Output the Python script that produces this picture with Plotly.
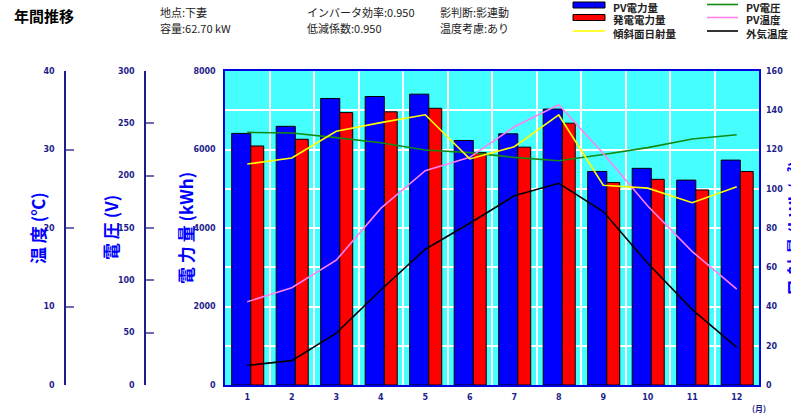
import plotly.graph_objects as go

# ---------------- data ----------------
months = ["1", "2", "3", "4", "5", "6", "7", "8", "9", "10", "11", "12"]
pv_power = [6410, 6590, 7300, 7350, 7410, 6230, 6400, 7030, 5440, 5520, 5220, 5730]      # PV電力量 kWh
gen_power = [6090, 6260, 6940, 6960, 7050, 5920, 6060, 6670, 5160, 5240, 4970, 5440]     # 発電電力量 kWh
irradiance = [112.6, 115.7, 129.3, 133.7, 137.7, 115.2, 121.4, 137.6, 101.8, 100.3, 92.9, 101.0]  # 傾斜面日射量
pv_voltage = [241.4, 240.8, 236.3, 231.5, 224.5, 222.0, 217.5, 214.3, 220.3, 226.8, 235.0, 239.1]  # PV電圧 V
pv_temp = [10.6, 12.4, 15.9, 22.5, 27.3, 29.0, 32.9, 35.7, 29.5, 22.8, 17.0, 12.2]        # PV温度 ℃
air_temp = [2.5, 3.1, 6.6, 12.1, 17.3, 20.6, 24.1, 25.7, 22.1, 15.5, 9.6, 4.8]           # 外気温度 ℃

energy_ticks = [0, 2000, 4000, 6000, 8000]
volt_ticks = [0, 50, 100, 150, 200, 250, 300]
temp_ticks = [0, 10, 20, 30, 40]
irr_ticks = [0, 20, 40, 60, 80, 100, 120, 140, 160]

W, H = 791, 419
PL, PR, PT, PB = 225, 759, 71, 385


def px(x):
    return x / W


def py(y):
    return (PB - y) / (PB - PT)


NAVY = "#1e1e8a"
TICKFONT = dict(family="DejaVu Sans", size=8, color=NAVY, weight="bold")
CJK = "Noto Sans CJK JP"

fig = go.Figure()

fig.add_trace(go.Bar(x=months, y=pv_power, name="PV電力量", marker=dict(color="#0000ff", line=dict(color="black", width=1)),
                     width=0.43, offset=-0.35, showlegend=False))
fig.add_trace(go.Bar(x=months, y=gen_power, name="発電電力量", marker=dict(color="#ff0000", line=dict(color="black", width=1)),
                     width=0.29, offset=0.08, showlegend=False))

fig.add_trace(go.Scatter(x=months, y=irradiance, name="傾斜面日射量", mode="lines", line=dict(color="#ffff00", width=1.6),
                         yaxis="y4", showlegend=False))
fig.add_trace(go.Scatter(x=months, y=pv_voltage, name="PV電圧", mode="lines", line=dict(color="#138a13", width=1.6),
                         yaxis="y2", showlegend=False))
fig.add_trace(go.Scatter(x=months, y=pv_temp, name="PV温度", mode="lines", line=dict(color="#ff80f0", width=1.6),
                         yaxis="y3", showlegend=False))
fig.add_trace(go.Scatter(x=months, y=air_temp, name="外気温度", mode="lines", line=dict(color="#000000", width=1.6),
                         yaxis="y3", showlegend=False))

fig.update_layout(
    width=W, height=H,
    margin=dict(l=0, r=0, t=PT, b=H - PB, pad=0),
    paper_bgcolor="white",
    plot_bgcolor="#45ffff",
    barmode="overlay",
    xaxis=dict(domain=[px(PL), px(PR)], type="category", range=[-0.5, 11.5], tickson="boundaries",
               showgrid=True, gridcolor="white", gridwidth=1.5, ticks="", tickfont=TICKFONT,
               showline=True, linecolor="#0000dd", linewidth=1.5, mirror=True, ticklabelstandoff=4,
               zeroline=False),
    yaxis=dict(range=[0, 8000], tickvals=energy_ticks, showgrid=True, gridcolor="white", gridwidth=1.5,
               minor=dict(dtick=1000, showgrid=True, gridcolor="white", gridwidth=1.5),
               showline=True, linecolor="#0000dd", linewidth=1.5, mirror=True, ticks="",
               tickfont=TICKFONT, ticklabelstandoff=6, zeroline=False),
    yaxis2=dict(range=[0, 300], tickvals=volt_ticks, overlaying="y", anchor="free", position=px(145), side="left",
                showgrid=False, showline=True, linecolor=NAVY, linewidth=1.5, ticks="inside", ticklen=8,
                tickcolor="#6b6bb0", tickwidth=1.5, tickfont=TICKFONT, ticklabelstandoff=8, zeroline=False),
    yaxis3=dict(range=[0, 40], tickvals=temp_ticks, overlaying="y", anchor="free", position=px(65), side="left",
                showgrid=False, showline=True, linecolor=NAVY, linewidth=1.5, ticks="inside", ticklen=8,
                tickcolor="#6b6bb0", tickwidth=1.5, tickfont=TICKFONT, ticklabelstandoff=8, zeroline=False),
    yaxis4=dict(range=[0, 160], tickvals=irr_ticks, overlaying="y", anchor="x", side="right",
                showgrid=False, showline=False, ticks="", tickfont=TICKFONT, ticklabelstandoff=6, zeroline=False),
)

ann = []
title_font = dict(family=CJK, size=17, color="#0000ff", weight="bold")
for xpx, txt in [(37, "温 度 (℃)"), (110, "電 圧 (V)"), (185, "電 力 量 (kWh)"), (794, "日 射 量 (kWh/㎡)")]:
    ann.append(dict(x=px(xpx), y=py(228), xref="paper", yref="paper", text=txt, textangle=-90,
                    showarrow=False, font=title_font, xanchor="center", yanchor="middle"))

ann.append(dict(x=px(12), y=py(15), xref="paper", yref="paper", text="年間推移", showarrow=False,
                xanchor="left", yanchor="middle", font=dict(family=CJK, size=15, color="black", weight="bold")))
info_font = dict(family=CJK, size=11, color="#222222")
for xpx, ypx, txt in [(158, 12, "地点:下妻"), (158, 28, "容量:62.70 kW"),
                      (305, 12, "インバータ効率:0.950"), (305, 28, "低減係数:0.950"),
                      (438, 12, "影判断:影連動"), (438, 28, "温度考慮:あり")]:
    ann.append(dict(x=px(xpx), y=py(ypx), xref="paper", yref="paper", text=txt, showarrow=False,
                    xanchor="left", yanchor="middle", font=info_font))

ann.append(dict(x=px(759), y=py(408), xref="paper", yref="paper", text="(月)", showarrow=False,
                xanchor="center", yanchor="middle", font=dict(family=CJK, size=8, color=NAVY, weight="bold")))

# legend
leg_font = dict(family=CJK, size=10.5, color="#222222", weight="bold")
shapes = []
legend_items = [
    ("rect", "#0000ff", 573, 605, 5, "PV電力量", 611, 7),
    ("rect", "#ff0000", 573, 605, 17.5, "発電電力量", 611, 20),
    ("line", "#ffff00", 573, 605, 31, "傾斜面日射量", 611, 33),
    ("line", "#138a13", 707, 738, 4.5, "PV電圧", 744, 7),
    ("line", "#ff80f0", 707, 738, 17.5, "PV温度", 744, 20),
    ("line", "#000000", 707, 738, 31, "外気温度", 744, 33),
]
for kind, col, x0, x1, yc, label, lx, ly in legend_items:
    if kind == "rect":
        shapes.append(dict(type="rect", xref="paper", yref="paper", x0=px(x0), x1=px(x1), y0=py(yc - 3), y1=py(yc + 3),
                           fillcolor=col, line=dict(color="black", width=1)))
    else:
        shapes.append(dict(type="line", xref="paper", yref="paper", x0=px(x0), x1=px(x1), y0=py(yc), y1=py(yc),
                           line=dict(color=col, width=1.6)))
    ann.append(dict(x=px(lx), y=py(ly), xref="paper", yref="paper", text=label, showarrow=False,
                    xanchor="left", yanchor="middle", font=leg_font))

fig.update_layout(annotations=ann, shapes=shapes)

# remove the default page margin so the 791x419 figure fills the window exactly
fig.write_html("out.html", config={"displayModeBar": False},
               post_script="document.body.style.margin='0px';")
